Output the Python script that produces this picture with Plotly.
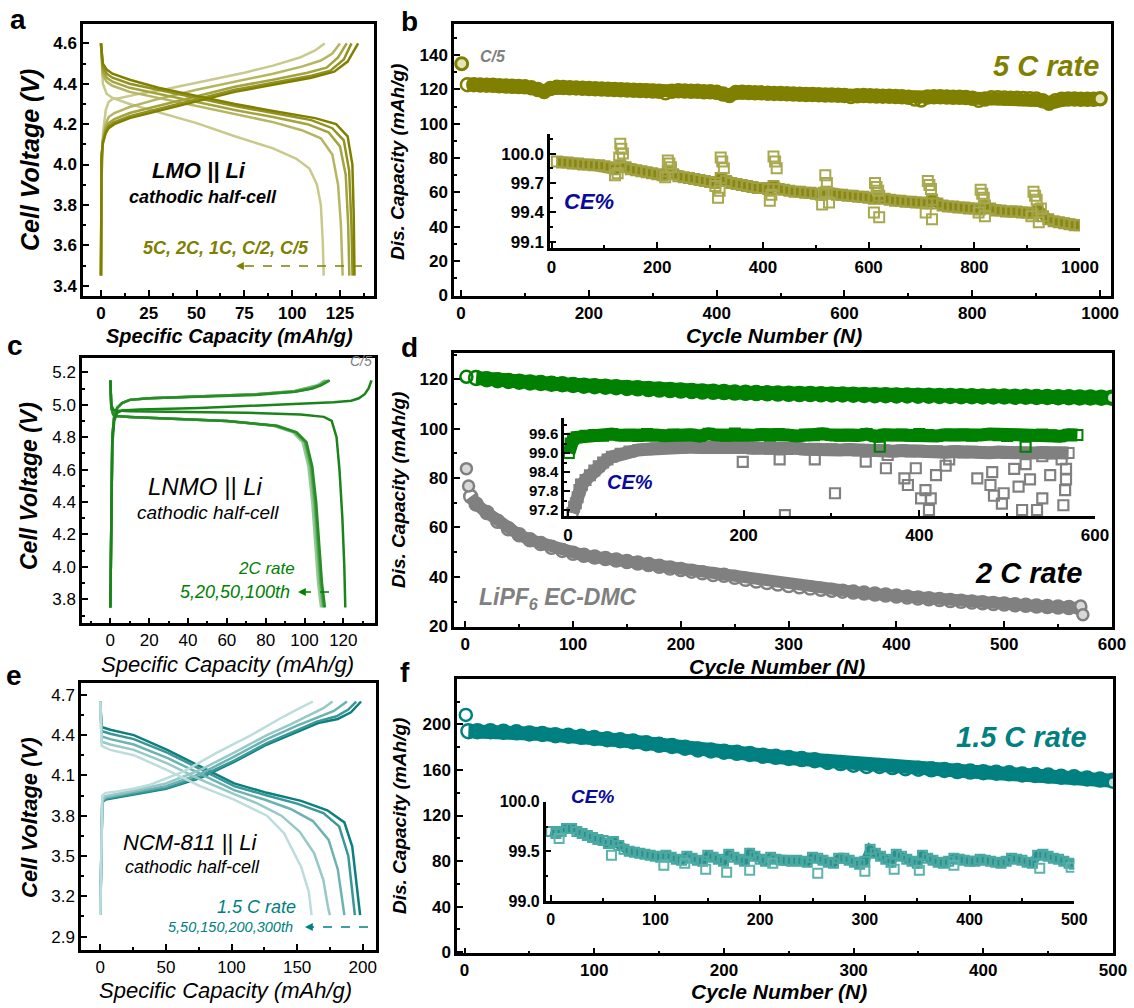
import plotly.graph_objects as go

W, H = 1134, 1008
ARIAL = "Liberation Sans, Arial, sans-serif"
NARROW = "Liberation Sans Narrow, Arial Narrow, Liberation Sans, Arial, sans-serif"

OLIVE = "#808000"
GREEN = "#008000"
GRAY = "#808080"
TEAL = "#008080"
NAVY = "#0a0a9a"

# ---------------- Panel a : LMO || Li voltage profiles ----------------
A_LABELS = ["5C", "2C", "1C", "C/2", "C/5"]
A_COLORS = ["#c9c98c", "#b5b562", "#a3a33f", "#929221", "#808000"]
A_CH_CAP = [
    [0, 0.3, 1, 2.5, 4, 6, 10, 20, 35, 55, 75, 90, 104, 112, 117],
    [0, 0.3, 1, 2.5, 4, 7, 15, 30, 50, 70, 90, 105, 115, 121, 125],
    [0, 0.3, 1, 2.5, 4, 7, 15, 30, 50, 70, 90, 108, 118, 124, 128.5],
    [0, 0.3, 1, 2.5, 4, 7, 15, 30, 50, 70, 90, 110, 120, 127, 131],
    [0, 0.3, 1, 2.5, 4, 7, 15, 30, 50, 70, 90, 110, 122, 129, 134.5],
]
A_CH_V = [
    [3.45, 3.9, 4.15, 4.27, 4.31, 4.325, 4.33, 4.35, 4.375, 4.415, 4.455, 4.49, 4.53, 4.565, 4.6],
    [3.45, 3.95, 4.12, 4.2, 4.235, 4.255, 4.285, 4.325, 4.37, 4.41, 4.45, 4.485, 4.515, 4.55, 4.6],
    [3.45, 4.0, 4.12, 4.18, 4.205, 4.225, 4.255, 4.29, 4.34, 4.385, 4.42, 4.455, 4.48, 4.53, 4.6],
    [3.45, 4.03, 4.11, 4.165, 4.19, 4.21, 4.24, 4.275, 4.325, 4.37, 4.405, 4.44, 4.465, 4.52, 4.6],
    [3.45, 4.05, 4.105, 4.155, 4.18, 4.2, 4.23, 4.265, 4.315, 4.36, 4.395, 4.43, 4.46, 4.51, 4.6],
]
A_DIS_CAP = [
    [0, 0.3, 1, 3, 6, 15, 30, 50, 70, 90, 102, 109, 113, 115, 116, 116.5],
    [0, 0.3, 1, 3, 6, 15, 30, 50, 70, 90, 105, 115, 121, 124, 125.5, 126.4],
    [0, 0.3, 1, 3, 6, 15, 30, 50, 70, 90, 108, 119, 125, 128, 129.3, 129.9],
    [0, 0.3, 1, 3, 6, 15, 30, 50, 70, 90, 110, 121, 127, 129.8, 131, 131.6],
    [0, 0.3, 1, 3, 6, 15, 30, 50, 70, 90, 112, 123, 129, 131.5, 132.2, 132.6],
]
A_DIS_V = [
    [4.6, 4.5, 4.4, 4.35, 4.33, 4.3, 4.26, 4.205, 4.14, 4.08, 4.03, 3.98, 3.9, 3.8, 3.62, 3.45],
    [4.6, 4.52, 4.44, 4.41, 4.39, 4.36, 4.33, 4.29, 4.25, 4.21, 4.17, 4.13, 4.05, 3.9, 3.7, 3.45],
    [4.6, 4.53, 4.46, 4.43, 4.41, 4.38, 4.35, 4.31, 4.27, 4.235, 4.2, 4.16, 4.09, 3.95, 3.7, 3.45],
    [4.6, 4.54, 4.48, 4.45, 4.43, 4.4, 4.37, 4.33, 4.29, 4.255, 4.22, 4.18, 4.12, 3.97, 3.7, 3.45],
    [4.6, 4.55, 4.5, 4.47, 4.45, 4.42, 4.38, 4.34, 4.3, 4.265, 4.23, 4.2, 4.14, 4.0, 3.75, 3.45],
]

# ---------------- Panel b : LMO cycling at 5C ----------------
B_FIRST_CYC = [1]
B_FIRST_CAP = [135]
B_CYC = [10, 20, 30, 40, 50, 60, 70, 80, 90, 100, 110, 120, 130, 140, 150, 160, 170, 180, 190, 200,
         210, 220, 230, 240, 250, 260, 270, 280, 290, 300, 310, 320, 330, 340, 350, 360, 370, 380, 390, 400,
         410, 420, 430, 440, 450, 460, 470, 480, 490, 500, 510, 520, 530, 540, 550, 560, 570, 580, 590, 600,
         610, 620, 630, 640, 650, 660, 670, 680, 690, 700, 710, 720, 730, 740, 750, 760, 770, 780, 790, 800,
         810, 820, 830, 840, 850, 860, 870, 880, 890, 900, 910, 920, 930, 940, 950, 960, 970, 980, 990, 1000]
B_CAP = [122.8, 122.8, 122.6, 122.5, 122.4, 122.2, 122.0, 121.9, 121.7, 121.5, 121.0, 120.0, 118.8, 120.6, 121.3, 121.2, 121.0, 120.9, 120.7, 120.5,
         120.4, 120.2, 120.1, 119.9, 119.8, 119.7, 119.5, 119.4, 119.3, 119.1, 118.9, 118.0, 119.0, 119.2, 119.1, 119.0, 118.9, 118.7, 118.6, 118.4,
         117.4, 116.4, 118.2, 118.4, 118.2, 118.1, 118.0, 117.8, 117.7, 117.6, 117.5, 117.3, 117.2, 117.1, 117.0, 116.9, 116.8, 116.7, 116.6, 116.5,
         115.9, 116.3, 116.4, 116.3, 116.2, 116.1, 116.0, 115.9, 115.8, 115.4, 114.4, 113.9, 115.6, 115.8, 115.7, 115.6, 115.5, 115.4, 115.3, 114.9,
         113.7, 114.4, 115.2, 115.1, 115.0, 114.9, 114.8, 114.7, 114.6, 114.4, 113.4, 111.9, 113.4, 114.3, 114.4, 114.4, 114.3, 114.3, 114.3, 114.6]

CE_B = [99.92, 99.91, 99.91, 99.90, 99.90, 99.89, 99.89, 99.88, 99.88, 99.87, 99.86, 99.84, 99.88, 99.86, 99.84, 99.83, 99.82, 99.81, 99.80, 99.79,
        99.78, 99.82, 99.79, 99.77, 99.76, 99.75, 99.74, 99.73, 99.72, 99.71, 99.70, 99.75, 99.72, 99.70, 99.69, 99.68, 99.67, 99.66, 99.65, 99.65,
        99.64, 99.67, 99.64, 99.63, 99.62, 99.61, 99.61, 99.60, 99.60, 99.59, 99.58, 99.61, 99.59, 99.58, 99.58, 99.57, 99.57, 99.56, 99.56, 99.55,
        99.54, 99.57, 99.54, 99.53, 99.52, 99.52, 99.51, 99.51, 99.50, 99.50, 99.49, 99.53, 99.49, 99.47, 99.46, 99.46, 99.45, 99.45, 99.44, 99.44,
        99.43, 99.47, 99.44, 99.42, 99.42, 99.41, 99.41, 99.41, 99.40, 99.40, 99.39, 99.43, 99.36, 99.33, 99.31, 99.30, 99.29, 99.28, 99.27, 99.27]
CE_B_SPIKE_CYC = [120, 125, 128, 130, 132, 135, 215, 220, 223, 226, 310, 315, 318, 320, 323, 326,
                  413, 416, 420, 423, 426, 512, 515, 518, 521, 525, 610, 612, 615, 618, 620,
                  708, 712, 715, 718, 720, 808, 812, 815, 818, 820, 908, 912, 915, 918, 922, 926]
CE_B_SPIKE_VAL = [99.78, 99.80, 99.96, 100.10, 100.05, 100.00, 99.76, 99.93, 99.90, 99.86, 99.67, 99.55, 99.62, 99.96, 99.92, 99.85,
                  99.52, 99.58, 99.97, 99.92, 99.85, 99.48, 99.60, 99.78, 99.70, 99.50, 99.40, 99.70, 99.66, 99.62, 99.35,
                  99.40, 99.72, 99.68, 99.64, 99.33, 99.40, 99.63, 99.59, 99.55, 99.36, 99.36, 99.61, 99.57, 99.53, 99.30, 99.44]

# ---------------- Panel c : LNMO || Li voltage profiles ----------------
C_2C_COLORS = ["#93c993", "#6db56d", "#47a047", "#268c26"]
C_2C_CH_CAP = [
    [0, 0.4, 1, 2, 3.5, 6, 10, 20, 45, 75, 95, 102.5, 106.5, 109, 110.5],
    [0, 0.4, 1, 2, 3.5, 6, 10, 20, 45, 75, 95, 103, 107.5, 110, 111.5],
    [0, 0.4, 1, 2, 3.5, 6, 10, 20, 45, 75, 95, 103.5, 108, 111, 112.5],
    [0, 0.4, 1, 2, 3.5, 6, 10, 20, 45, 75, 95, 104, 108.5, 111.5, 113],
]
C_2C_CH_V = [
    [3.75, 4.4, 4.8, 4.93, 4.98, 5.01, 5.03, 5.04, 5.05, 5.065, 5.085, 5.105, 5.12, 5.14, 5.15],
    [3.75, 4.4, 4.8, 4.93, 4.98, 5.01, 5.03, 5.04, 5.05, 5.065, 5.085, 5.105, 5.12, 5.14, 5.15],
    [3.75, 4.4, 4.8, 4.93, 4.98, 5.01, 5.03, 5.04, 5.05, 5.065, 5.08, 5.1, 5.12, 5.14, 5.15],
    [3.75, 4.4, 4.8, 4.93, 4.98, 5.01, 5.03, 5.04, 5.05, 5.06, 5.08, 5.1, 5.12, 5.14, 5.15],
]
C_2C_DIS_CAP = [
    [0, 0.5, 1.5, 3, 10, 30, 60, 84, 94, 99, 102, 104, 105.5, 107, 108.5],
    [0, 0.5, 1.5, 3, 10, 30, 60, 85, 95, 100, 103, 105, 106.5, 108, 109.5],
    [0, 0.5, 1.5, 3, 10, 30, 60, 85, 95.5, 100.5, 103.5, 105.5, 107, 108.5, 110],
    [0, 0.5, 1.5, 3, 10, 30, 60, 86, 96, 101, 104, 106, 107.5, 109, 110.5],
]
C_2C_DIS_V = [
    [5.15, 4.98, 4.94, 4.93, 4.925, 4.915, 4.9, 4.87, 4.83, 4.77, 4.62, 4.4, 4.15, 3.9, 3.75],
    [5.15, 4.98, 4.94, 4.93, 4.925, 4.915, 4.9, 4.87, 4.83, 4.77, 4.62, 4.4, 4.15, 3.9, 3.75],
    [5.15, 4.98, 4.94, 4.93, 4.925, 4.915, 4.9, 4.87, 4.83, 4.77, 4.62, 4.4, 4.15, 3.9, 3.75],
    [5.15, 4.98, 4.94, 4.93, 4.925, 4.915, 4.9, 4.87, 4.83, 4.77, 4.62, 4.4, 4.15, 3.9, 3.75],
]
C_C5_CH_CAP = [0, 0.4, 1, 2, 3.5, 6, 15, 46, 80, 115, 124, 128, 131, 133, 134.5]
C_C5_CH_V = [3.75, 4.3, 4.75, 4.9, 4.95, 4.965, 4.97, 4.98, 4.995, 5.015, 5.025, 5.04, 5.065, 5.1, 5.15]
C_C5_DIS_CAP = [0, 0.5, 1.5, 3, 10, 40, 70, 98, 110, 114, 116.5, 118, 119.5, 120.5, 121]
C_C5_DIS_V = [5.15, 5.0, 4.97, 4.965, 4.96, 4.955, 4.95, 4.94, 4.925, 4.9, 4.8, 4.6, 4.3, 4.0, 3.75]

# ---------------- Panel d : LNMO cycling at 2C ----------------
D_GREEN_FIRST_CYC = [1]
D_GREEN_FIRST_CAP = [121.0]
D_CYC = [10, 20, 30, 40, 50, 60, 70, 80, 90, 100, 110, 120, 130, 140, 150, 160, 170, 180, 190, 200,
         210, 220, 230, 240, 250, 260, 270, 280, 290, 300, 310, 320, 330, 340, 350, 360, 370, 380, 390, 400,
         410, 420, 430, 440, 450, 460, 470, 480, 490, 500, 510, 520, 530, 540, 550, 560, 570, 580, 590, 600]
D_GREEN_CAP = [120.5, 120.0, 119.6, 119.3, 119.0, 118.7, 118.5, 118.2, 118.0, 117.7, 117.4, 117.2, 117.0, 116.8, 116.5, 116.3, 116.0, 115.8, 115.6, 115.4,
               115.2, 115.0, 114.9, 114.8, 114.6, 114.5, 114.4, 114.3, 114.2, 114.1, 114.0, 114.0, 113.9, 113.8, 113.8, 113.7, 113.6, 113.5, 113.5, 113.4,
               113.4, 113.3, 113.3, 113.2, 113.2, 113.1, 113.1, 113.0, 113.0, 113.0, 112.9, 112.9, 112.8, 112.8, 112.7, 112.7, 112.6, 112.6, 112.5, 112.5]
D_GRAY_FIRST_CYC = [1, 3]
D_GRAY_FIRST_CAP = [83.8, 76.8]
D_GRAY_CYC = [5, 10, 20, 30, 40, 50, 60, 70, 80, 90, 100, 110, 120, 130, 140, 150, 160, 170, 180, 190, 200,
              210, 220, 230, 240, 250, 260, 270, 280, 290, 300, 310, 320, 330, 340, 350, 360, 370, 380, 390, 400,
              410, 420, 430, 440, 450, 460, 470, 480, 490, 500, 510, 520, 530, 540, 550, 560, 570]
D_GRAY_CAP = [72.5, 69.5, 66.0, 62.5, 59.5, 57.0, 55.0, 53.5, 52.0, 50.7, 49.5, 48.7, 48.0, 47.4, 46.8, 46.2, 45.6, 45.0, 44.3, 43.6, 43.0,
              42.3, 41.6, 40.9, 40.6, 39.8, 39.0, 38.3, 37.7, 37.1, 36.5, 36.0, 35.5, 35.0, 34.6, 34.2, 33.8, 33.4, 33.0, 32.6, 32.2,
              31.8, 31.4, 31.1, 30.8, 30.4, 30.1, 29.8, 29.5, 29.2, 29.0, 28.7, 28.5, 28.2, 28.0, 27.8, 27.6, 27.4]
D_GRAY_END_CYC = [571, 573]
D_GRAY_END_CAP = [28.2, 24.6]

CE_D_GREEN_CYC = [1, 3, 6] + D_CYC
CE_D_GREEN = [99.00, 99.30, 99.45,
              99.50, 99.55, 99.57, 99.55, 99.60, 99.56, 99.58, 99.54, 99.60, 99.57, 99.55, 99.59, 99.56, 99.58, 99.54, 99.61, 99.57, 99.55, 99.62, 99.58,
              99.56, 99.59, 99.55, 99.60, 99.57, 99.54, 99.59, 99.56, 99.61, 99.57, 99.55, 99.58, 99.56, 99.60, 99.53, 99.58, 99.56, 99.59, 99.55, 99.60,
              99.57, 99.54, 99.58, 99.56, 99.59, 99.55, 99.57, 99.60, 99.56, 99.54, 99.58, 99.57, 99.55, 99.59, 99.56, 99.53, 99.58, 99.57]
CE_D_GREEN_OUT_CYC = [355, 521]
CE_D_GREEN_OUT = [99.20, 99.20]
CE_D_GRAY_CYC = [5, 7, 9, 11, 13, 16, 20, 25, 30, 35, 40, 45, 50, 60, 70, 80, 90, 100, 110, 120, 130, 140, 150, 160, 170, 180, 190, 200,
                 210, 220, 230, 240, 250, 260, 270, 280, 290, 300, 310, 320, 330, 340, 350, 360, 370, 380, 390, 400,
                 410, 420, 430, 440, 450, 460, 470, 480, 490, 500, 510, 520, 530, 540, 550, 560, 570]
CE_D_GRAY = [97.10, 97.30, 97.41, 97.60, 97.83, 98.00, 98.15, 98.30, 98.45, 98.58, 98.70, 98.80, 98.88, 98.98, 99.05, 99.10, 99.12, 99.15, 99.16, 99.18,
             99.17, 99.19, 99.18, 99.20, 99.17, 99.19, 99.16, 99.18, 99.15, 99.17, 99.14, 99.16, 99.13, 99.15, 99.12, 99.14, 99.11, 99.12, 99.10, 99.11,
             99.08, 99.10, 99.07, 99.09, 99.06, 99.08, 99.05, 99.07, 99.04, 99.06, 99.03, 99.05, 99.02, 99.04, 99.03, 99.01, 99.03, 99.00, 99.02, 99.01,
             99.00, 99.02, 98.99, 99.01, 99.00]
CE_D_GRAY_OUT_CYC = [15, 199, 241, 247, 281, 304, 339, 362, 364, 383, 387, 396, 402, 407, 411, 413, 419, 430, 434,
                     466, 481, 483, 485, 494, 496, 508, 513, 517, 521, 526, 534, 540, 540, 549, 562, 564, 566, 567, 567]
CE_D_GRAY_OUT = [98.00, 98.72, 98.80, 97.04, 98.80, 97.73, 98.73, 98.52, 98.94, 98.20, 97.99, 98.52, 97.57, 97.83, 97.20, 97.57, 98.30, 98.60, 98.80,
                 98.20, 97.99, 98.40, 97.65, 97.40, 97.73, 98.50, 97.94, 97.20, 98.65, 98.17, 97.20, 98.90, 97.57, 98.30, 98.80, 97.35, 97.83, 98.50, 98.17]

# ---------------- Panel e : NCM-811 || Li voltage profiles ----------------
E_COLORS = ["#0d7f7f", "#3a9797", "#6cb2b2", "#96c8c8", "#bddcdc"]
E_CH_CAP = [
    [0, 0.5, 1.5, 4, 10, 25, 50, 76, 102, 127, 153, 166, 181, 191, 198.7],
    [0, 0.5, 1.5, 4, 10, 25, 50, 76, 102, 127, 150, 165, 180, 189, 195],
    [0, 0.5, 1.5, 4, 10, 25, 50, 76, 102, 127, 150, 165, 178, 188],
    [0, 0.5, 1.5, 4, 10, 25, 50, 76, 102, 127, 145, 160, 170, 177],
    [0, 0.5, 1.5, 4, 12.7, 25, 38, 63.7, 89, 115, 140, 152, 162],
]
E_CH_V = [
    [3.06, 3.5, 3.9, 3.92, 3.93, 3.96, 4.0, 4.08, 4.2, 4.33, 4.44, 4.49, 4.52, 4.57, 4.65],
    [3.06, 3.5, 3.9, 3.925, 3.935, 3.965, 4.005, 4.09, 4.21, 4.34, 4.44, 4.5, 4.54, 4.59, 4.65],
    [3.06, 3.5, 3.91, 3.935, 3.945, 3.975, 4.02, 4.11, 4.24, 4.37, 4.47, 4.53, 4.58, 4.65],
    [3.06, 3.5, 3.92, 3.945, 3.955, 3.985, 4.04, 4.14, 4.27, 4.4, 4.48, 4.55, 4.6, 4.65],
    [3.06, 3.5, 3.95, 3.97, 3.98, 4.0, 4.03, 4.13, 4.27, 4.40, 4.54, 4.6, 4.65],
]
E_DIS_CAP = [
    [0, 0.5, 1, 7.6, 25.5, 51, 76, 102, 127, 153, 173, 186, 192, 196, 198],
    [0, 0.5, 1, 7.6, 25.5, 51, 76, 102, 127, 150, 170, 182, 189, 192.5, 194],
    [0, 0.5, 1, 7.6, 25.5, 51, 76, 102, 125, 145, 162, 174, 181, 184.5, 186],
    [0, 0.5, 1, 7.6, 25.5, 51, 76, 102, 120, 138, 152, 163, 170, 173.5, 175],
    [0, 0.5, 1, 7.6, 25.5, 51, 76, 102, 127, 140, 153, 159, 161],
]
E_DIS_V = [
    [4.65, 4.5, 4.46, 4.44, 4.4, 4.29, 4.17, 4.04, 3.97, 3.91, 3.84, 3.75, 3.57, 3.22, 3.06],
    [4.65, 4.47, 4.43, 4.41, 4.37, 4.27, 4.15, 4.02, 3.95, 3.89, 3.82, 3.72, 3.5, 3.2, 3.06],
    [4.65, 4.44, 4.39, 4.37, 4.33, 4.23, 4.11, 3.99, 3.92, 3.85, 3.76, 3.62, 3.4, 3.15, 3.06],
    [4.65, 4.4, 4.35, 4.33, 4.29, 4.19, 4.07, 3.96, 3.89, 3.8, 3.68, 3.52, 3.32, 3.12, 3.06],
    [4.65, 4.36, 4.32, 4.29, 4.25, 4.14, 4.02, 3.92, 3.8, 3.67, 3.42, 3.23, 3.06],
]

# ---------------- Panel f : NCM-811 cycling at 1.5C ----------------
F_FIRST_CYC = [1]
F_FIRST_CAP = [208.2]
F_CYC = [3, 10, 20, 30, 40, 50, 60, 70, 80, 90, 100, 110, 120, 130, 140, 150, 160, 170, 180, 190, 200,
         210, 220, 230, 240, 250, 260, 270, 280, 290, 300, 310, 320, 330, 340, 350, 360, 370, 380, 390, 400,
         410, 420, 430, 440, 450, 460, 470, 480, 490, 500]
F_CAP = [194.0, 194.0, 194.0, 193.5, 193.0, 192.0, 191.5, 190.5, 190.0, 189.0, 188.0, 187.0, 186.0, 185.0, 183.5, 182.0, 181.0, 179.5, 178.0, 177.0, 176.0,
         175.0, 174.0, 172.5, 171.5, 170.5, 169.5, 168.5, 167.0, 166.0, 164.5, 163.5, 163.5, 162.5, 161.5, 161.0, 160.5, 160.0, 159.0, 158.5, 158.0,
         157.5, 157.0, 156.0, 155.5, 155.0, 154.0, 153.5, 152.5, 151.5, 150.5]
F_END_CYC = [500]
F_END_CAP = [149.0]

CE_F_CYC = [0, 5, 10, 15, 20, 25, 30, 35, 40, 45, 50, 55, 60, 65, 70, 75, 80, 85, 90, 95, 100,
            105, 110, 115, 120, 125, 130, 135, 140, 145, 150, 155, 160, 165, 170, 175, 180, 185, 190, 195, 200,
            205, 210, 215, 220, 225, 230, 235, 240, 245, 250, 255, 260, 265, 270, 275, 280, 285, 290, 295, 300,
            305, 310, 315, 320, 325, 330, 335, 340, 345, 350, 355, 360, 365, 370, 375, 380, 385, 390, 395, 400,
            405, 410, 415, 420, 425, 430, 435, 440, 445, 450, 455, 460, 465, 470, 475, 480, 485, 490, 495, 500]
CE_F = [99.70, 99.68, 99.70, 99.73, 99.73, 99.70, 99.68, 99.66, 99.64, 99.62, 99.61, 99.58, 99.60, 99.56, 99.52, 99.50, 99.49, 99.48, 99.47, 99.46, 99.45,
        99.44, 99.46, 99.44, 99.42, 99.41, 99.45, 99.43, 99.41, 99.40, 99.46, 99.44, 99.42, 99.40, 99.47, 99.44, 99.42, 99.40, 99.48, 99.45, 99.42,
        99.40, 99.44, 99.42, 99.41, 99.41, 99.40, 99.41, 99.40, 99.39, 99.44, 99.43, 99.41, 99.39, 99.38, 99.43, 99.43, 99.41, 99.39, 99.37, 99.40,
        99.52, 99.48, 99.45, 99.42, 99.39, 99.47, 99.45, 99.42, 99.40, 99.38, 99.46, 99.43, 99.41, 99.39, 99.38, 99.40, 99.43, 99.42, 99.41, 99.40,
        99.40, 99.42, 99.41, 99.40, 99.39, 99.38, 99.40, 99.43, 99.42, 99.41, 99.39, 99.38, 99.46, 99.47, 99.45, 99.43, 99.42, 99.40, 99.38, 99.37]
CE_F_OUT_CYC = [8, 58, 108, 128, 148, 168, 190, 212, 255, 300, 328, 352, 385, 467, 497]
CE_F_OUT = [99.63, 99.46, 99.36, 99.38, 99.32, 99.29, 99.31, 99.38, 99.28, 99.30, 99.32, 99.31, 99.36, 99.33, 99.34]


# ---------------- helpers ----------------
def fx(x):
    return x / W


def fy(y):
    return 1 - y / H


def axis(dom, rng, dtick, tick0, minor, anchor, family=ARIAL, size=16, bold=True,
         mirror=True, fmt=None, lw=2.5, tl=6, standoff=None):
    d = dict(domain=dom, range=rng, tickmode="linear", dtick=dtick, tick0=tick0,
             ticks="inside", ticklen=tl, tickwidth=2, tickcolor="black",
             showline=True, linecolor="black", linewidth=lw, mirror=mirror,
             showgrid=False, zeroline=False, anchor=anchor, automargin=False,
             tickfont=dict(family=family, size=size, color="black",
                           weight="bold" if bold else "normal"),
             minor=dict(ticks="inside", ticklen=3, tickwidth=1.5, tickcolor="black",
                        dtick=minor, tick0=tick0, showgrid=False))
    if fmt:
        d["tickformat"] = fmt
    if standoff is not None:
        d["ticklabelstandoff"] = standoff
    return d


fig = go.Figure()


def curve(x, y, color, n, width=2.5):
    fig.add_trace(go.Scatter(x=x, y=y, mode="lines", line=dict(color=color, width=width),
                             xaxis="x" + n, yaxis="y" + n, showlegend=False, hoverinfo="skip"))


def band(x, y, color, n, lw, ms, symbol, mcolor=None, mlw=2):
    fig.add_trace(go.Scatter(x=x, y=y, mode="lines+markers",
                             line=dict(color=color, width=lw),
                             marker=dict(symbol=symbol, size=ms, color=mcolor or color,
                                         line=dict(color=mcolor or color, width=mlw)),
                             xaxis="x" + n, yaxis="y" + n, showlegend=False, hoverinfo="skip"))


def pts(x, y, color, n, ms, symbol, fill=None, mlw=2):
    fig.add_trace(go.Scatter(x=x, y=y, mode="markers",
                             marker=dict(symbol=symbol, size=ms, color=fill or color,
                                         line=dict(color=color, width=mlw)),
                             xaxis="x" + n, yaxis="y" + n, showlegend=False, hoverinfo="skip"))


# panel a (axis 1 -> "x"/"y")
for i in range(5):
    curve(A_CH_CAP[i], A_CH_V[i], A_COLORS[i], "")
    curve(A_DIS_CAP[i], A_DIS_V[i], A_COLORS[i], "")

# panel b (axis 2) + inset (axis 3)
band(B_CYC, B_CAP, OLIVE, "2", 13, 13, "circle-open", mlw=2.5)
pts(B_FIRST_CYC, B_FIRST_CAP, OLIVE, "2", 12, "circle", fill="#e4e4b8", mlw=3)
pts([1000], [114.6], OLIVE, "2", 11, "circle", fill="#e4e4b8", mlw=2)
band(B_CYC, CE_B, "#878712", "3", 11, 10, "square-open", mcolor="#a0a040", mlw=2)
pts(CE_B_SPIKE_CYC, CE_B_SPIKE_VAL, "#a8a84e", "3", 10, "square-open", mlw=2)

# panel c (axis 4)
for i in range(4):
    curve(C_2C_CH_CAP[i], C_2C_CH_V[i], C_2C_COLORS[i], "4")
    curve(C_2C_DIS_CAP[i], C_2C_DIS_V[i], C_2C_COLORS[i], "4")
curve(C_C5_CH_CAP, C_C5_CH_V, "#1a841a", "4")
curve(C_C5_DIS_CAP, C_C5_DIS_V, "#1a841a", "4")

# panel d (axis 5) + inset (axis 6)
band(D_CYC, D_GREEN_CAP, GREEN, "5", 14, 14, "circle-open", mlw=2.5)
pts(D_GREEN_FIRST_CYC, D_GREEN_FIRST_CAP, GREEN, "5", 12, "circle-open", mlw=2.5)
pts([600], [112.5], GREEN, "5", 10, "circle", fill="#cfe8cf")
band(D_GRAY_CYC, D_GRAY_CAP, GRAY, "5", 12, 13, "circle-open", mlw=2.5)
pts(D_GRAY_FIRST_CYC, D_GRAY_FIRST_CAP, GRAY, "5", 11, "circle", fill="#d8d8d8", mlw=2.5)
pts(D_GRAY_END_CYC, D_GRAY_END_CAP, GRAY, "5", 11, "circle", fill="#d8d8d8", mlw=2.5)
band(CE_D_GRAY_CYC, CE_D_GRAY, GRAY, "6", 13, 10, "square-open", mlw=2)
pts(CE_D_GRAY_OUT_CYC, CE_D_GRAY_OUT, GRAY, "6", 10, "square-open", mlw=2.2)
band(CE_D_GREEN_CYC, CE_D_GREEN, GREEN, "6", 13, 10, "square-open", mlw=2)
pts(CE_D_GREEN_OUT_CYC, CE_D_GREEN_OUT, GREEN, "6", 10, "square-open", mlw=2.2)

# panel e (axis 7)
for i in range(5):
    curve(E_CH_CAP[i], E_CH_V[i], E_COLORS[i], "7")
    curve(E_DIS_CAP[i], E_DIS_V[i], E_COLORS[i], "7")

# panel f (axis 8) + inset (axis 9)
band(F_CYC, F_CAP, TEAL, "8", 14, 14, "circle-open", mlw=2.5)
pts(F_FIRST_CYC, F_FIRST_CAP, TEAL, "8", 12, "circle-open", mlw=2.5)
pts(F_END_CYC, F_END_CAP, TEAL, "8", 10, "circle", fill="#bfe0e0")
band(CE_F_CYC, CE_F, "#2a8f8a", "9", 9, 9, "square-open", mcolor="#4aa8a2", mlw=2)
pts(CE_F_OUT_CYC, CE_F_OUT, "#5cb3ad", "9", 9, "square-open", mlw=2)

layout = dict(
    width=W, height=H, margin=dict(l=0, r=0, t=0, b=0),
    paper_bgcolor="white", plot_bgcolor="white", showlegend=False,
    xaxis=axis([fx(83), fx(374)], [-9.4, 142.8], 25, 0, 12.5, "y", size=17, standoff=0),
    yaxis=axis([fy(296), fy(24)], [3.349, 4.696], 0.2, 3.4, 0.1, "x", size=17, fmt=".1f"),
    xaxis2=axis([fx(454), fx(1111)], [-11, 1017], 200, 0, 100, "y2", family=NARROW, size=17, standoff=0),
    yaxis2=axis([fy(296), fy(23.5)], [-0.3, 158.4], 20, 0, 10, "x2", family=NARROW, size=17),
    xaxis3=axis([fx(550), fx(1080)], [-3, 1000], 200, 0, 100, "y3", family=NARROW, size=17, mirror=False,
                standoff=2),
    yaxis3=axis([fy(247.7), fy(134)], [99.04, 100.2], 0.3, 99.1, 0.15, "x3", family=NARROW, size=17,
                mirror=False, fmt=".1f"),
    xaxis4=axis([fx(82), fx(375)], [-14.6, 136.3], 20, 0, 10, "y4", size=17, bold=False, standoff=0),
    yaxis4=axis([fy(623.3), fy(357.7)], [3.652, 5.29], 0.2, 3.8, 0.1, "x4", size=17, bold=False, fmt=".1f"),
    xaxis5=axis([fx(454), fx(1112)], [-10.5, 600], 100, 0, 50, "y5", family=NARROW, size=17, standoff=0),
    yaxis5=axis([fy(626.7), fy(353.3)], [19.8, 130.5], 20, 0, 10, "x5", family=NARROW, size=17),
    xaxis6=axis([fx(564), fx(1095)], [-4.5, 600], 200, 0, 100, "y6", family=NARROW, size=17, mirror=False,
                standoff=2),
    yaxis6=axis([fy(516), fy(418.3)], [97.01, 100.1], 0.6, 97.2, 0.3, "x6", family=NARROW, size=15,
                mirror=False, fmt=".1f"),
    xaxis7=axis([fx(81), fx(376)], [-14.7, 210.1], 50, 0, 25, "y7", size=17, bold=False, standoff=0),
    yaxis7=axis([fy(950), fy(682.7)], [2.80, 4.79], 0.3, 2.9, 0.15, "x7", size=17, bold=False, fmt=".1f"),
    xaxis8=axis([fx(457), fx(1113)], [-5.8, 500], 100, 0, 50, "y8", family=NARROW, size=17, standoff=0),
    yaxis8=axis([fy(953.3), fy(679.3)], [-0.9, 239.5], 40, 0, 20, "x8", family=NARROW, size=17),
    xaxis9=axis([fx(545.7), fx(1074.3)], [-4.8, 500], 100, 0, 50, "y9", family=NARROW, size=16, mirror=False,
                standoff=2),
    yaxis9=axis([fy(901), fy(801.7)], [99.0, 100.0], 0.5, 99.0, 0.25, "x9", family=NARROW, size=16,
                mirror=False, fmt=".1f"),
)
fig.update_layout(**layout)


def ann(text, x, y, size, color="black", bold=False, italic=False, family=ARIAL, angle=0):
    return dict(text=text, x=fx(x), y=fy(y), xref="paper", yref="paper", showarrow=False,
                xanchor="center", yanchor="middle", textangle=angle,
                font=dict(family=family, size=size, color=color,
                          weight="bold" if bold else "normal",
                          style="italic" if italic else "normal"))


annotations = [
    # panel letters
    ann("a", 18, 19, 28, bold=True), ann("b", 409, 21, 28, bold=True),
    ann("c", 15, 345, 28, bold=True), ann("d", 409, 347, 28, bold=True),
    ann("e", 14, 675, 28, bold=True), ann("f", 405, 672, 28, bold=True),
    # axis titles
    ann("Specific Capacity (mAh/g)", 229, 336, 20, bold=True, italic=True),
    ann("Cell Voltage (V)", 30, 160, 25, bold=True, italic=True, angle=-90),
    ann("Dis. Capacity (mAh/g)", 398, 162, 19, bold=True, italic=True, angle=-90),
    ann("Cycle Number (N)", 774, 336, 21, bold=True, italic=True, family=NARROW),
    ann("Specific Capacity (mAh/g)", 227, 664, 22, italic=True),
    ann("Cell Voltage (V)", 29, 486, 23, bold=True, italic=True, angle=-90),
    ann("Dis. Capacity (mAh/g)", 398, 490, 19, bold=True, italic=True, angle=-90),
    ann("Cycle Number (N)", 777, 666, 21, bold=True, italic=True, family=NARROW),
    ann("Specific Capacity (mAh/g)", 225, 990, 22, italic=True),
    ann("Cell Voltage (V)", 29, 818, 22, bold=True, italic=True, angle=-90),
    ann("Dis. Capacity (mAh/g)", 399, 816, 19, bold=True, italic=True, angle=-90),
    ann("Cycle Number (N)", 779, 991, 21, bold=True, italic=True, family=NARROW),
    # panel a texts
    ann("LMO || Li", 199, 170, 22, bold=True, italic=True),
    ann("cathodic half-cell", 203, 197, 18, bold=True, italic=True),
    ann("5C, 2C, 1C, C/2, C/5", 226, 248, 18, color=OLIVE, bold=True, italic=True),
    # panel b texts
    ann("C/5", 493, 56, 16, color=GRAY, bold=True, italic=True, family=NARROW),
    ann("5 C rate", 1046, 66, 29, color=OLIVE, bold=True, italic=True, family=NARROW),
    ann("CE%", 589, 202, 22, color=NAVY, bold=True, italic=True),
    # panel c texts
    ann("C/5", 361, 361, 14, color=GRAY, italic=True),
    ann("LNMO || Li", 205, 486, 24, italic=True),
    ann("cathodic half-cell", 208, 512, 19, italic=True),
    ann("2C rate", 266, 568, 17, color=GREEN, italic=True),
    ann("5,20,50,100th", 235, 592, 18, color=GREEN, italic=True),
    # panel d texts
    ann("CE%", 630, 482, 20, color=NAVY, bold=True, italic=True),
    ann("2 C rate", 1028, 573, 29, bold=True, italic=True, family=NARROW),
    ann("LiPF<sub>6</sub> EC-DMC", 558, 598, 23, color=GRAY, bold=True, italic=True, family=NARROW),
    # panel e texts
    ann("NCM-811 || Li", 190, 842, 22, italic=True),
    ann("cathodic half-cell", 192, 867, 18, italic=True),
    ann("1.5 C rate", 256, 907, 18, color=TEAL, italic=True),
    ann("5,50,150,200,300th", 230, 927, 14.5, color=TEAL, italic=True),
    # panel f texts
    ann("1.5 C rate", 1021, 737, 29, color=TEAL, bold=True, italic=True, family=NARROW),
    ann("CE%", 592, 796, 19, color=NAVY, bold=True, italic=True),
]

# arrowheads for the dashed pointer lines (tail given as pixel offset)
for (x1, off, y, col) in [(236, 10, 266, OLIVE), (298, 8, 592, GREEN), (305, 9, 927, TEAL)]:
    annotations.append(dict(x=fx(x1), y=fy(y), ax=off, ay=0, xref="paper", yref="paper",
                            axref="pixel", ayref="pixel", text="", showarrow=True,
                            arrowhead=2, arrowsize=1.2, arrowwidth=1.3, arrowcolor=col))
fig.update_layout(annotations=annotations)

shapes = []
for (x0, x1, y, col) in [(362, 244, 266, OLIVE), (329, 304, 592, GREEN), (368, 312, 927, TEAL)]:
    shapes.append(dict(type="line", xref="paper", yref="paper", x0=fx(x0), x1=fx(x1), y0=fy(y), y1=fy(y),
                       line=dict(color=col, width=1.3, dash="dash")))
fig.update_layout(shapes=shapes)

fig.write_html("out.html", config={"displayModeBar": False},
               post_script="document.body.style.margin='0';document.body.style.overflow='hidden';")
